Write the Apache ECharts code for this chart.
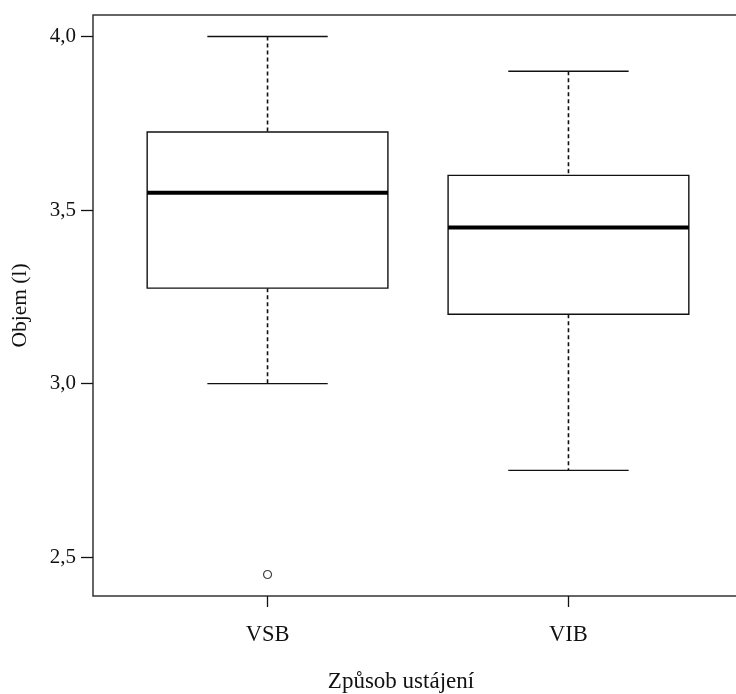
<!DOCTYPE html>
<html>
<head>
<meta charset="utf-8">
<script src="https://cdn.jsdelivr.net/npm/echarts@6/dist/echarts.min.js"></script>
<style>
  html, body { margin: 0; padding: 0; background: #fff; }
  #chart { width: 736px; height: 694px; }
</style>
</head>
<body>
<div id="chart"></div>
<script>
// Housing method groups and their five-number summaries (lung volume, litres)
const categories = ['VSB', 'VIB'];
const whiskerLow = [3.0, 2.75];
const quartile1 = [3.275, 3.2];
const median = [3.55, 3.45];
const quartile3 = [3.725, 3.6];
const whiskerHigh = [4.0, 3.9];
// Points beyond the whiskers: [group index, value]
const outliers = [[0, 2.45]];
const yTicks = [2.5, 3.0, 3.5, 4.0];

const FONT = '"Liberation Serif", "DejaVu Serif", serif';
const INK = '#111';
const positions = categories.map((_, i) => i + 1);

const boxData = categories.map((_, i) => [
  positions[i], whiskerLow[i], quartile1[i], median[i], quartile3[i], whiskerHigh[i]
]);
const outlierData = outliers.map(o => [positions[o[0]], o[1]]);

function renderBox(params, api) {
  const x = api.value(0);
  const lo = api.value(1), q1 = api.value(2), med = api.value(3), q3 = api.value(4), hi = api.value(5);
  const halfBox = 0.4, halfCap = 0.2;
  const pLo = api.coord([x, lo]);
  const pQ1 = api.coord([x, q1]);
  const pQ3 = api.coord([x, q3]);
  const pHi = api.coord([x, hi]);
  const boxL = api.coord([x - halfBox, q3]);
  const boxR = api.coord([x + halfBox, q1]);
  const medL = api.coord([x - halfBox, med]);
  const medR = api.coord([x + halfBox, med]);
  const capL = api.coord([x - halfCap, hi])[0];
  const capR = api.coord([x + halfCap, hi])[0];
  const solid = { stroke: INK, lineWidth: 1.4, fill: null };
  const dashed = { stroke: INK, lineWidth: 1.6, lineDash: [4, 3], fill: null };
  return {
    type: 'group',
    children: [
      { type: 'line', shape: { x1: pHi[0], y1: pHi[1], x2: pQ3[0], y2: pQ3[1] }, style: dashed },
      { type: 'line', shape: { x1: pQ1[0], y1: pQ1[1], x2: pLo[0], y2: pLo[1] }, style: dashed },
      { type: 'line', shape: { x1: capL, y1: pHi[1], x2: capR, y2: pHi[1] }, style: solid },
      { type: 'line', shape: { x1: capL, y1: pLo[1], x2: capR, y2: pLo[1] }, style: solid },
      { type: 'rect', shape: { x: boxL[0], y: boxL[1], width: boxR[0] - boxL[0], height: boxR[1] - boxL[1] },
        style: { stroke: INK, lineWidth: 1.4, fill: '#fff' } },
      { type: 'line', shape: { x1: medL[0], y1: medL[1], x2: medR[0], y2: medR[1] },
        style: { stroke: '#000', lineWidth: 4 } }
    ]
  };
}

const chart = echarts.init(document.getElementById('chart'), null, { renderer: 'canvas' });
chart.setOption({
  animation: false,
  backgroundColor: '#fff',
  grid: {
    left: 93, top: 15, right: -7, bottom: 98,
    containLabel: false,
    outerBoundsMode: 'none',
    show: true,
    borderColor: '#333',
    borderWidth: 1.5,
    backgroundColor: 'transparent'
  },
  xAxis: {
    type: 'value',
    min: 0.42, max: 2.58,
    splitLine: { show: false },
    axisLine: { show: false },
    axisTick: { show: true, length: 11, customValues: positions, lineStyle: { color: INK, width: 1.3 } },
    axisLabel: {
      customValues: positions,
      margin: 28,
      color: INK, fontFamily: FONT, fontSize: 22.5,
      formatter: v => categories[Math.round(v) - 1] || ''
    },
    name: 'Způsob ustájení',
    nameLocation: 'middle',
    nameGap: 74,
    nameTextStyle: { color: INK, fontFamily: FONT, fontSize: 23, padding: [0, 34, 0, 0] }
  },
  yAxis: {
    type: 'value',
    min: 2.388, max: 4.062,
    splitLine: { show: false },
    axisLine: { show: false },
    axisTick: { show: true, length: 12, customValues: yTicks, lineStyle: { color: INK, width: 1.3 } },
    axisLabel: {
      customValues: yTicks,
      margin: 17,
      color: INK, fontFamily: FONT, fontSize: 21,
      formatter: v => v.toFixed(1).replace('.', ',')
    },
    name: 'Objem (l)',
    nameLocation: 'middle',
    nameGap: 62,
    nameTextStyle: { color: INK, fontFamily: FONT, fontSize: 21.5 }
  },
  series: [
    {
      type: 'custom',
      renderItem: renderBox,
      data: boxData,
      encode: { x: 0, y: [1, 2, 3, 4, 5] },
      clip: false
    },
    {
      type: 'scatter',
      data: outlierData,
      symbol: 'circle',
      symbolSize: 8,
      itemStyle: { color: '#fff', borderColor: INK, borderWidth: 1.2 }
    }
  ]
});
</script>
</body>
</html>
